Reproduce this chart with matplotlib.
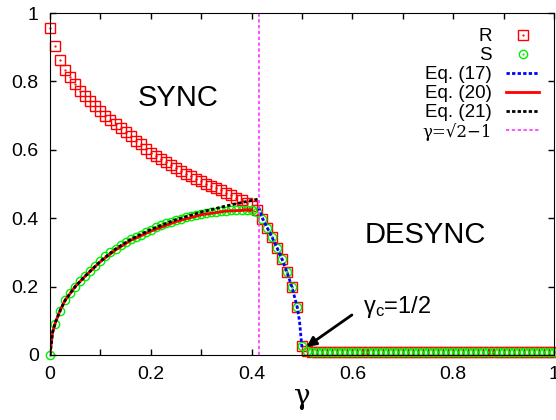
import numpy as np
import matplotlib
matplotlib.use("Agg")
import matplotlib.pyplot as plt
from matplotlib.legend_handler import HandlerTuple

plt.rcParams['font.family'] = ['Liberation Sans', 'DejaVu Sans']
plt.rcParams['mathtext.fontset'] = 'custom'
plt.rcParams['mathtext.rm'] = 'Liberation Sans'
plt.rcParams['mathtext.it'] = 'Liberation Sans:italic'

# simulation points, gamma = 0, 0.01, ..., 1
gamma = np.linspace(0, 1, 101)

R_sync = [0.955, 0.903, 0.863, 0.834, 0.812, 0.792, 0.773, 0.756, 0.742, 0.728,
          0.714, 0.700, 0.687, 0.675, 0.663, 0.651, 0.639, 0.627, 0.616, 0.603,
          0.592, 0.582, 0.573, 0.564, 0.555, 0.546, 0.538, 0.530, 0.522, 0.515,
          0.508, 0.501, 0.494, 0.488, 0.481, 0.474, 0.467, 0.460, 0.452, 0.444,
          0.435, 0.424]
S_sync = [0.000, 0.092, 0.130, 0.160, 0.181, 0.200, 0.216, 0.231, 0.245, 0.260,
          0.274, 0.288, 0.300, 0.311, 0.321, 0.330, 0.338, 0.345, 0.352, 0.359,
          0.366, 0.373, 0.379, 0.385, 0.390, 0.395, 0.399, 0.403, 0.406, 0.409,
          0.412, 0.415, 0.417, 0.419, 0.421, 0.422, 0.423, 0.424, 0.424, 0.424,
          0.423, 0.418]
# beyond sqrt(2)-1 both order parameters coincide
RS_drop = [0.397, 0.370, 0.344, 0.314, 0.281, 0.244, 0.200, 0.141, 0.026]
RS_tail = [0.011, 0.010, 0.010, 0.010, 0.010, 0.010, 0.010, 0.010, 0.010, 0.010,
           0.010, 0.010, 0.010, 0.010, 0.010, 0.010, 0.010, 0.010, 0.010, 0.010,
           0.010, 0.009, 0.009, 0.009, 0.009, 0.009, 0.009, 0.009, 0.009, 0.009,
           0.009, 0.009, 0.009, 0.009, 0.009, 0.009, 0.009, 0.009, 0.009, 0.009,
           0.009, 0.009, 0.009, 0.009, 0.009, 0.009, 0.009, 0.009, 0.009, 0.009]
R = np.array(R_sync + RS_drop + RS_tail)
S = np.array(S_sync + RS_drop + RS_tail)

# theory curves
g17 = [0.414, 0.42, 0.43, 0.44, 0.45, 0.46, 0.47, 0.48, 0.49, 0.495, 0.5]
eq17 = [0.432, 0.405, 0.375, 0.346, 0.315, 0.281, 0.243, 0.199, 0.143, 0.100, 0.02]

g20 = [0, 0.005, 0.01, 0.02, 0.03, 0.05, 0.07, 0.1, 0.13, 0.16, 0.2, 0.25, 0.3, 0.35, 0.4]
eq20 = [0, 0.065, 0.092, 0.130, 0.160, 0.200, 0.231, 0.273, 0.307, 0.335, 0.362,
        0.390, 0.410, 0.421, 0.424]

g21 = [0, 0.005, 0.01, 0.02, 0.03, 0.05, 0.07, 0.1, 0.13, 0.16, 0.2, 0.25, 0.3,
       0.35, 0.4, 0.414]
eq21 = [0, 0.065, 0.092, 0.130, 0.160, 0.200, 0.231, 0.274, 0.310, 0.338, 0.367,
        0.396, 0.418, 0.436, 0.452, 0.456]

gamma_star = np.sqrt(2) - 1
gamma_c = 0.5

fig = plt.figure(figsize=(5.56, 4.2), dpi=100)
ax = fig.add_axes([0.0899, 0.1548, 0.9065, 0.8142])

r_sq, = ax.plot(gamma, R, 's', ms=6.5, mfc='none', mec='#ff0000', mew=1.0, clip_on=False)
r_dot, = ax.plot(gamma, R, '.', ms=1.2, color='#ff0000', clip_on=False)
s_ci, = ax.plot(gamma, S, 'o', ms=6.0, mfc='none', mec='#00ee00', mew=1.0, clip_on=False)
s_dot, = ax.plot(gamma, S, '.', ms=1.2, color='#00ee00', clip_on=False)

l17, = ax.plot(g17, eq17, color='#0000ff', lw=2, ls=(0, (1.2, 0.8)))
l20, = ax.plot(g20, eq20, color='#ff0000', lw=2)
l21, = ax.plot(g21, eq21, color='black', lw=2, ls=(0, (1.2, 0.8)))
lv = ax.axvline(gamma_star, color='#ff33ff', lw=1.2, ls=(0, (2, 1.5)))

ax.text(0.254, 0.751, 'SYNC', fontsize=21, ha='center', va='center')
ax.text(0.744, 0.351, 'DESYNC', fontsize=21, ha='center', va='center')
ax.annotate('', xy=(gamma_c + 0.009, 0.024), xytext=(0.599, 0.117),
            arrowprops=dict(arrowstyle='-|>', color='black', lw=2, mutation_scale=14,
                            shrinkA=0, shrinkB=0))
ax.text(0.621, 0.103, r'$\mathregular{γ_c}$=1/2', fontsize=17, ha='left', va='bottom')

ax.set_xlim(0, 1)
ax.set_ylim(0, 1)
xt = np.round(np.arange(0, 1.01, 0.1), 1)
ax.set_xticks(xt)
ax.set_xticklabels(['0', '', '0.2', '', '0.4', '', '0.6', '', '0.8', '', '1'])
ax.set_yticks([0, 0.2, 0.4, 0.6, 0.8, 1])
ax.set_yticklabels(['0', '0.2', '0.4', '0.6', '0.8', '1'])
ax.tick_params(direction='in', top=True, right=True, length=4, width=1,
               labelsize=14, pad=8)
ax.set_xlabel('γ', fontsize=20, family=['DejaVu Serif'], labelpad=0)

leg = ax.legend([(r_sq, r_dot), (s_ci, s_dot), l17, l20, l21, lv],
                ['R', 'S', 'Eq. (17)', 'Eq. (20)', 'Eq. (21)', 'γ=√2−1'],
                handler_map={tuple: HandlerTuple(ndivide=1)},
                loc='upper right', markerfirst=False, frameon=False, fontsize=13.5,
                handlelength=1.75, handletextpad=0.75, labelspacing=0.1,
                borderaxespad=0.3, borderpad=0.5)
leg.get_texts()[-1].set_fontsize(12)
leg.get_texts()[-1].set_family(['DejaVu Serif'])

fig.savefig('out.png', dpi=100)
